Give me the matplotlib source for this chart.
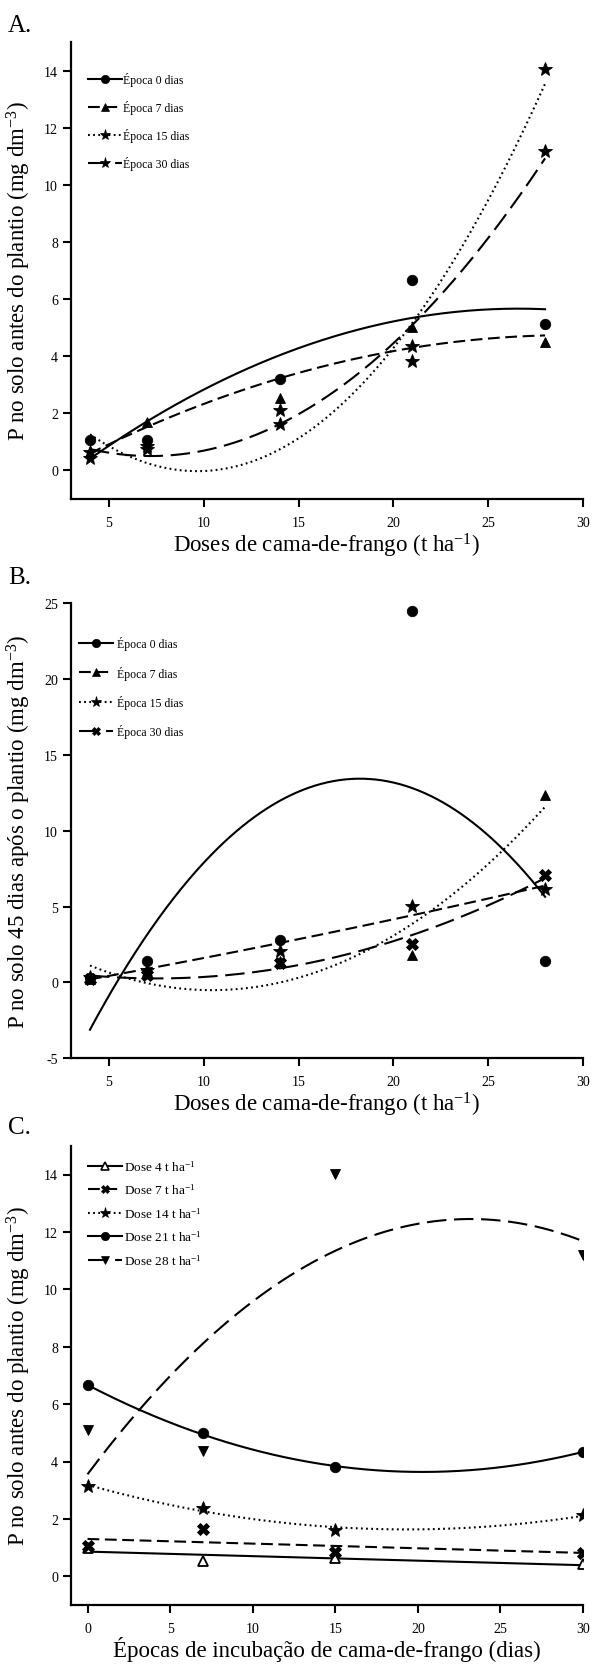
import numpy as np
import matplotlib
matplotlib.use('Agg')
import matplotlib.pyplot as plt
from matplotlib.lines import Line2D

plt.rcParams['font.family'] = ['Liberation Serif', 'DejaVu Serif']
plt.rcParams['mathtext.fontset'] = 'custom'
plt.rcParams['mathtext.rm'] = 'Liberation Serif'
plt.rcParams['mathtext.it'] = 'Liberation Serif:italic'
plt.rcParams['mathtext.bf'] = 'Liberation Serif:bold'
plt.rcParams['lines.scale_dashes'] = False
plt.rcParams['axes.unicode_minus'] = False

# ---------------- data ----------------
doses = [4, 7, 14, 21, 28]
# Panel A: P before planting, by incubation period
a_ep0 = [1.07, 1.07, 3.21, 6.65, 5.14]
a_ep7 = [0.63, 1.71, 2.52, 5.02, 4.48]
a_ep15 = [0.63, 0.85, 1.61, 3.82, 14.05]
a_ep30 = [0.45, 0.75, 2.13, 4.36, 11.20]
# Panel B: P 45 days after planting
b_ep0 = [0.30, 1.44, 2.78, 24.49, 1.40]
b_ep7 = [0.20, 0.75, 1.40, 1.78, 12.36]
b_ep15 = [0.35, 0.85, 2.10, 5.03, 6.16]
b_ep30 = [0.20, 0.50, 1.30, 2.56, 7.09]
# Panel C: P before planting, by dose
epocas = [0, 7, 15, 30]
c_d4 = [1.00, 0.55, 0.65, 0.42]
c_d7 = [1.05, 1.65, 0.85, 0.81]
c_d14 = [3.14, 2.38, 1.63, 2.12]
c_d21 = [6.65, 4.98, 3.81, 4.34]
c_d28 = [5.09, 4.36, 14.03, 11.21]

ab_labels = ['Época 0 dias', 'Época 7 dias', 'Época 15 dias', 'Época 30 dias']
c_labels = ['Dose 4 t ha$^{-1}$', 'Dose 7 t ha$^{-1}$', 'Dose 14 t ha$^{-1}$',
            'Dose 21 t ha$^{-1}$', 'Dose 28 t ha$^{-1}$']

# ---------------- styles ----------------
LS = {'solid': '-', 'dash': (0, (8.5, 4.0)), 'dot': (0, (1.3, 2.4)),
      'long': (0, (14.0, 5.5))}
MS = {'o': 7.5, '^': 7.5, '*': 10, 'X': 8, 'v': 7.5}
LW = 1.5
DPI = 100
fig = plt.figure(figsize=(592 / DPI, 1665 / DPI), dpi=DPI)


def frac_axes(top_px, bottom_px, left_px=71, right_px=583):
    return fig.add_axes([left_px / 592, 1 - bottom_px / 1665,
                         (right_px - left_px) / 592, (bottom_px - top_px) / 1665])


def series(ax, x, y, marker, ls, deg, mfc='black'):
    x = np.asarray(x, float)
    y = np.asarray(y, float)
    coef = np.polyfit(x, y, deg)
    xs = np.linspace(x.min(), x.max(), 300)
    ax.plot(xs, np.polyval(coef, xs), color='black', lw=LW, ls=LS[ls],
            dash_capstyle='butt', zorder=2)
    ax.plot(x, y, ls='none', marker=marker, ms=MS[marker], mfc=mfc,
            mec='black', mew=1.3 if mfc == 'white' else 0.6, zorder=3)


def style_axes(ax, xlim, ylim, xticks, yticks):
    ax.set_xlim(*xlim)
    ax.set_ylim(*ylim)
    ax.set_xticks(xticks)
    ax.set_yticks(yticks)
    for s in ('top', 'right'):
        ax.spines[s].set_visible(False)
    for s in ('left', 'bottom'):
        ax.spines[s].set_linewidth(1.6)
    ax.tick_params(axis='both', direction='out', length=5.8, width=1.5,
                   labelsize=10)
    ax.tick_params(axis='x', pad=6.5)
    ax.tick_params(axis='y', pad=3.5)


def legend(ax, handles, labels, x, y, spacing, textpad, hlen, fs=8.5):
    ax.legend(handles, labels, loc='upper left', bbox_to_anchor=(x, y),
              frameon=False, fontsize=fs, handlelength=hlen,
              handletextpad=textpad, labelspacing=spacing, borderpad=0,
              borderaxespad=0, numpoints=1)


def h(marker, ls, mfc='black'):
    return Line2D([], [], color='black', lw=LW, ls=LS[ls], marker=marker,
                  ms=MS[marker] * 0.8, mfc=mfc, mec='black',
                  mew=1.2 if mfc == 'white' else 0.5)


XL = 'Doses de cama-de-frango (t ha$^{-1}$)'
YL = 'P no solo antes do plantio (mg dm$^{-3}$)'

# ---------------- Panel A ----------------
axA = frac_axes(43, 500)
series(axA, doses, a_ep0, 'o', 'solid', 2)
series(axA, doses, a_ep7, '^', 'dash', 2)
series(axA, doses, a_ep15, '*', 'dot', 2)
series(axA, doses, a_ep30, '*', 'long', 2)
style_axes(axA, (3, 30), (-1, 15), [5, 10, 15, 20, 25, 30], list(range(0, 15, 2)))
axA.set_xlabel(XL, fontsize=16.5, labelpad=1)
axA.set_ylabel(YL, fontsize=16.5, labelpad=8)
legend(axA, [h('o', 'solid'), h('^', 'dash'), h('*', 'dot'), h('*', 'long')],
       ab_labels, 0.033, 0.935, 1.19, 0.1, 2.9)

# ---------------- Panel B ----------------
axB = frac_axes(604, 1059.3)
series(axB, doses, b_ep0, 'o', 'solid', 2)
series(axB, doses, b_ep7, '^', 'dot', 2)
series(axB, doses, b_ep15, '*', 'dash', 2)
series(axB, doses, b_ep30, 'X', 'long', 2)
style_axes(axB, (3, 30), (-5, 25), [5, 10, 15, 20, 25, 30], list(range(-5, 26, 5)))
axB.set_xlabel(XL, fontsize=16.5, labelpad=1)
axB.set_ylabel('P no solo 45 dias após o plantio (mg dm$^{-3}$)', fontsize=16.5,
               labelpad=8)
legend(axB, [h('o', 'solid'), h('^', 'dash'), h('*', 'dot'), h('X', 'long')],
       ab_labels, 0.016, 0.927, 1.3, 0.33, 2.9)

# ---------------- Panel C ----------------
axC = frac_axes(1146.8, 1606)
series(axC, epocas, c_d4, '^', 'solid', 1, mfc='white')
series(axC, epocas, c_d7, 'X', 'dash', 1)
series(axC, epocas, c_d14, '*', 'dot', 2)
series(axC, epocas, c_d21, 'o', 'solid', 2)
series(axC, epocas, c_d28, 'v', 'long', 2)
style_axes(axC, (-1, 30), (-1, 15), [0, 5, 10, 15, 20, 25, 30], list(range(0, 15, 2)))
axC.set_xlabel('Épocas de incubação de cama-de-frango (dias)', fontsize=16.5,
               labelpad=1)
axC.set_ylabel(YL, fontsize=16.5, labelpad=8)
legend(axC, [h('^', 'solid', 'white'), h('X', 'dash'), h('*', 'dot'),
             h('o', 'solid'), h('v', 'long')],
       c_labels, 0.033, 0.972, 0.68, 0.15, 2.6, fs=9.5)

# ---------------- panel letters ----------------
fig.text(8 / 592, 1 - 32 / 1665, 'A.', fontsize=18, va='baseline', ha='left')
fig.text(8 / 592, 1 - 584 / 1665, 'B.', fontsize=18, va='baseline', ha='left')
fig.text(8 / 592, 1 - 1134 / 1665, 'C.', fontsize=18, va='baseline', ha='left')

fig.savefig('out.png', dpi=DPI)
